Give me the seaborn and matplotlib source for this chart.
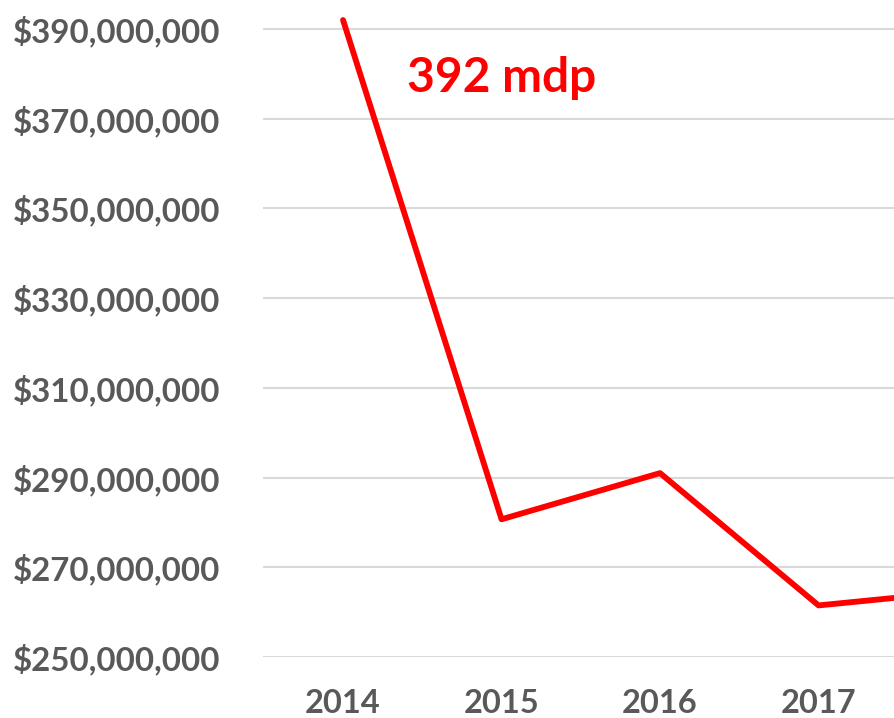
import matplotlib
matplotlib.use("Agg")
import matplotlib.pyplot as plt
import matplotlib.ticker as mticker
import seaborn as sns
import pandas as pd

# data (the 2018 point is outside the visible crop)
years = ["2014", "2015", "2016", "2017", "2018"]
amounts = [392_000_000, 280_700_000, 291_000_000, 261_500_000, 265_000_000]
y_ticks = [250_000_000, 270_000_000, 290_000_000, 310_000_000,
           330_000_000, 350_000_000, 370_000_000, 390_000_000]
note = "392 mdp"

df = pd.DataFrame({"year": years, "amount": amounts})

sns.set_theme(style="white")
plt.rcParams['font.family'] = ['Lato', 'DejaVu Sans']

fig = plt.figure(figsize=(8.94, 7.18), dpi=100)
ax = fig.add_axes([263 / 894, 61 / 718, 1 - 263 / 894, 1 - 61 / 718])

sns.lineplot(data=df, x="year", y="amount", ax=ax, color="#FF0000",
             linewidth=4.2, solid_capstyle="round", sort=False)

ax.set_xlim(-0.505, 3.476)
ax.set_ylim(250_000_000, 396_470_000)
ax.set_yticks(y_ticks)
ax.yaxis.set_major_formatter(mticker.FuncFormatter(lambda v, p: f"${v:,.0f}"))
ax.grid(axis="y", color="#D9D9D9", linewidth=1.5)
ax.set_axisbelow(True)
for s in ax.spines.values():
    s.set_visible(False)

ax.tick_params(axis="y", length=0, pad=31, labelsize=23.8, labelcolor="#595959")
ax.tick_params(axis="x", length=0, pad=23, labelsize=23.5, labelcolor="#595959")
for lbl in ax.get_xticklabels() + ax.get_yticklabels():
    lbl.set_fontweight("bold")
ax.set_xlabel("")
ax.set_ylabel("")

ax.text(0.404, 379_000_000, note, color="#FF0000", fontsize=34.5,
        fontweight="bold", ha="left", va="center")

fig.savefig("out.png", dpi=100)
